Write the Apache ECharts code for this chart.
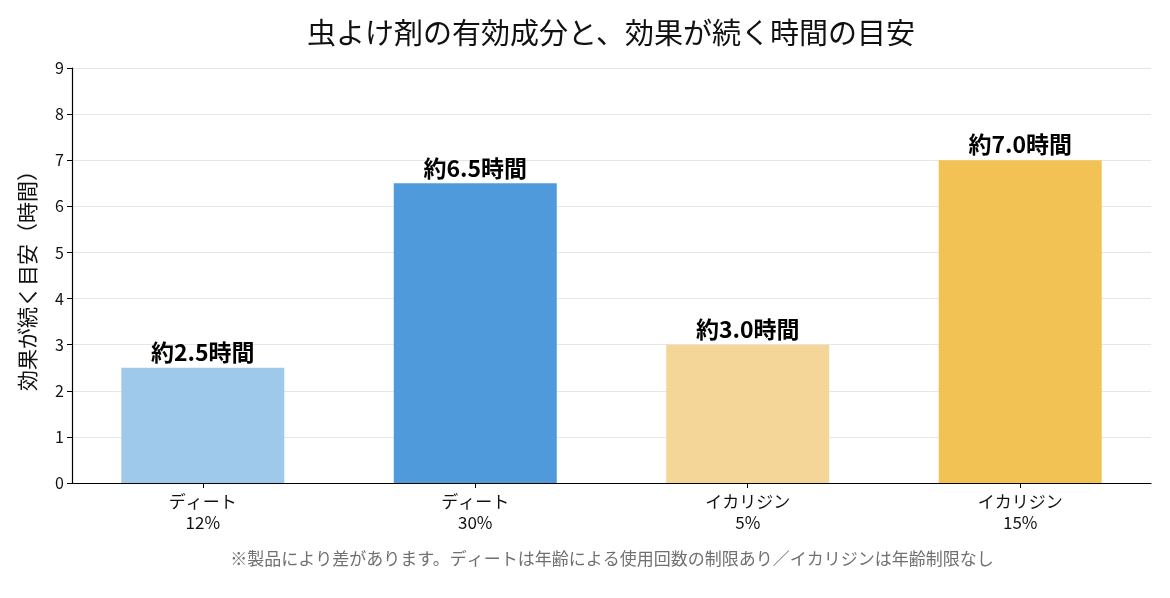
<!DOCTYPE html>
<html>
<head>
<meta charset="utf-8">
<script src="https://cdn.jsdelivr.net/npm/echarts@6/dist/echarts.min.js"></script>
<style>
html,body{margin:0;padding:0;background:#fff;}
#chart{width:1170px;height:598px;}
</style>
</head>
<body>
<div id="chart"></div>
<script>
var categories = ['ディート\n12%', 'ディート\n30%', 'イカリジン\n5%', 'イカリジン\n15%'];
var hours = [2.5, 6.5, 3.0, 7.0];
var barColors = ['#9fc9eb', '#4e9adb', '#f5d699', '#f3c255'];
var yTicks = [0, 1, 2, 3, 4, 5, 6, 7, 8, 9];

var font = '"Noto Sans CJK JP", "Noto Sans", sans-serif';

var myChart = echarts.init(document.getElementById('chart'));

var barData = hours.map(function (v, i) {
	return {
		value: [i, v],
		itemStyle: { color: barColors[i] }
	};
});

var option = {
	backgroundColor: '#fff',
	animation: false,
	textStyle: { fontFamily: font },
	title: [{
		text: '虫よけ剤の有効成分と、効果が続く時間の目安',
		left: 606, top: 13, textAlign: 'center',
		textStyle: { fontFamily: font, fontSize: 29, fontWeight: 'normal', color: '#111' }
	}, {
		text: '※製品により差があります。ディートは年齢による使用回数の制限あり／イカリジンは年齢制限なし',
		left: 607, top: 545, textAlign: 'center',
		textStyle: { fontFamily: font, fontSize: 17, fontWeight: 'normal', color: '#707070' }
	}],
	grid: { left: 72, right: 19, top: 68, bottom: 115 },
	xAxis: {
		type: 'value',
		min: -0.48,
		max: 3.48,
		splitLine: { show: false },
		axisLine: { show: true, onZero: false, lineStyle: { color: '#000', width: 1.2 } },
		axisTick: { show: true, customValues: [0, 1, 2, 3], length: 5, lineStyle: { color: '#000' } },
		axisLabel: {
			customValues: [0, 1, 2, 3],
			formatter: function (v) { return categories[Math.round(v)]; },
			fontFamily: font, fontSize: 17, color: '#111', lineHeight: 21, margin: 8
		}
	},
	yAxis: {
		type: 'value',
		min: yTicks[0],
		max: yTicks[yTicks.length - 1],
		interval: 1,
		name: '効果が続く目安（時間）',
		nameLocation: 'middle',
		nameGap: 34,
		nameTextStyle: { fontFamily: font, fontSize: 21, color: '#111' },
		axisLine: { show: true, onZero: false, lineStyle: { color: '#000', width: 1.2 } },
		axisTick: { show: true, length: 5, lineStyle: { color: '#000' } },
		axisLabel: { fontFamily: font, fontSize: 16, color: '#111', margin: 8 },
		splitLine: { show: true, lineStyle: { color: '#e6e6e6', width: 1 } }
	},
	series: [{
		type: 'bar',
		data: barData,
		barWidth: 163,
		label: {
			show: true,
			position: 'top',
			distance: 4,
			formatter: function (p) { return '約' + p.value[1].toFixed(1) + '時間'; },
			fontFamily: font, fontSize: 23, fontWeight: 'bold', color: '#000'
		}
	}]
};

myChart.setOption(option);
</script>
</body>
</html>
